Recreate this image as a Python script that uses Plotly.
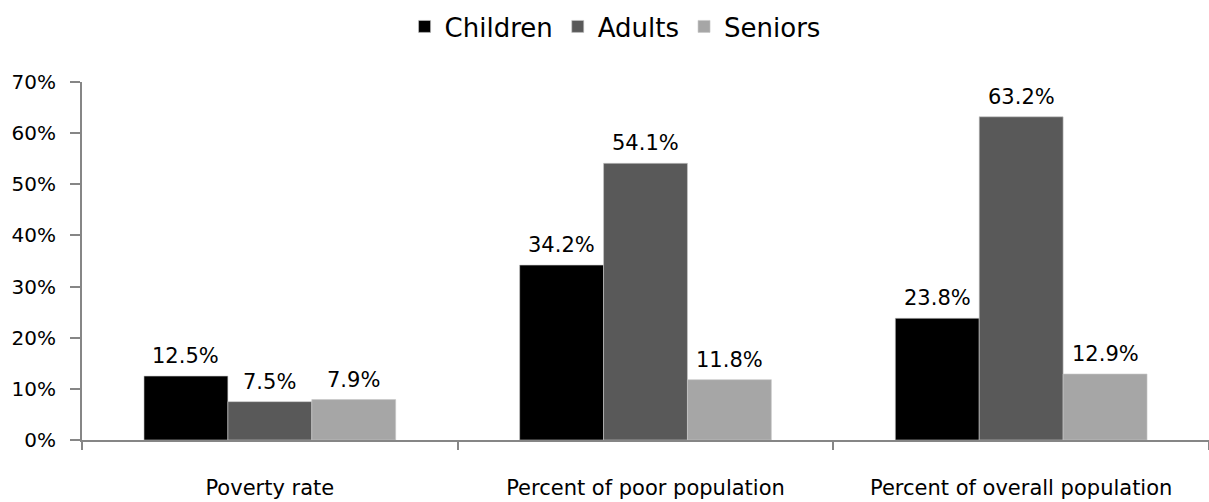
import plotly.graph_objects as go

categories = ["Poverty rate", "Percent of poor population", "Percent of overall population"]
series_names = ["Children", "Adults", "Seniors"]
children = [0.125, 0.342, 0.238]
adults = [0.075, 0.541, 0.632]
seniors = [0.079, 0.118, 0.129]
colors = ["#000000", "#595959", "#a6a6a6"]
y_ticks = [0, 0.1, 0.2, 0.3, 0.4, 0.5, 0.6, 0.7]

series_values = [children, adults, seniors]
FONT = "DejaVu Sans"
AXIS = "#868686"

fig = go.Figure()
for name, vals, col in zip(series_names, series_values, colors):
    fig.add_trace(go.Bar(
        name=name, x=categories, y=vals,
        marker=dict(color=col, line=dict(color="#c8c8c8", width=0.6)),
    ))

# data labels above each bar
W, L, R = 1209, 82, 0
plot_w = W - L - R
bargap = 0.33
bar_px = plot_w / len(categories) * (1 - bargap) / len(series_names)
annotations = []
for i, vals in enumerate(series_values):
    for c, v in zip(categories, vals):
        annotations.append(dict(
            x=c, y=v, xref="x", yref="y", text=f"{v*100:.1f}%",
            showarrow=False, yanchor="bottom", xanchor="center",
            xshift=(i - 1) * bar_px, yshift=6,
            font=dict(family=FONT, size=21, color="#000000"),
        ))

fig.update_layout(
    width=W, height=502,
    margin=dict(l=L, r=R, t=82, b=62),
    paper_bgcolor="white", plot_bgcolor="white",
    barmode="group", bargap=bargap, bargroupgap=0,
    font=dict(family=FONT, size=20, color="#000000"),
    showlegend=True,
    legend=dict(orientation="h", x=0.473, xanchor="center", y=1.155, yanchor="middle",
                font=dict(family=FONT, size=26, color="#000000"),
                bgcolor="rgba(0,0,0,0)", traceorder="normal"),
    annotations=annotations,
)
fig.update_xaxes(
    type="category", showline=True, linecolor=AXIS, linewidth=2,
    ticks="outside", tickson="boundaries", ticklen=8, tickcolor=AXIS, tickwidth=1.5,
    showgrid=False, ticklabelstandoff=28,
    tickfont=dict(family=FONT, size=21, color="#000000"),
)
fig.update_yaxes(
    range=[0, 0.7], tickvals=y_ticks, tickformat=".0%",
    showline=True, linecolor=AXIS, linewidth=2,
    ticks="outside", ticklen=10, tickcolor=AXIS, tickwidth=1.5,
    showgrid=False, zeroline=False, ticklabelstandoff=10,
    tickfont=dict(family=FONT, size=20, color="#000000"),
)

fig.write_html("out.html")
